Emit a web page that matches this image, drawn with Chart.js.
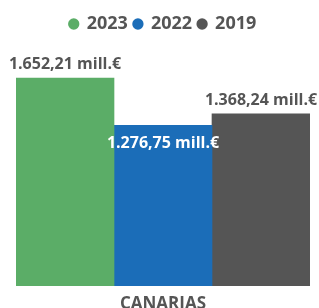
<!DOCTYPE html>
<html>
<head>
<meta charset="utf-8">
<script src="https://cdn.jsdelivr.net/npm/chart.js@4"></script>
<style>
  html, body { margin: 0; padding: 0; background: #fff; }
</style>
</head>
<body>
<canvas id="chart" width="319" height="308"></canvas>
<script>
// Chart data
var categories = ['CANARIAS'];
var seriesNames = ['2023', '2022', '2019'];
var seriesValues = [[1652.21], [1276.75], [1368.24]];
var seriesColors = ['#5BAD67', '#1B6DB8', '#555555'];
var labelInside = [false, true, false];
var yMax = 1930;

// Format 1652.21 -> "1.652,21 mill.€"
function formatValue(v) {
    var parts = v.toFixed(2).split('.');
    var intPart = parts[0].replace(/\B(?=(\d{3})+(?!\d))/g, '.');
    return intPart + ',' + parts[1] + ' mill.€';
}

// Draw the value labels above / inside the bars
var valueLabels = {
    id: 'valueLabels',
    afterDatasetsDraw: function(chart) {
        var ctx = chart.ctx;
        ctx.save();
        ctx.font = 'bold 16px "Open Sans"';
        ctx.textAlign = 'center';
        ctx.textBaseline = 'alphabetic';
        chart.data.datasets.forEach(function(ds, i) {
            var meta = chart.getDatasetMeta(i);
            meta.data.forEach(function(bar, j) {
                var text = formatValue(ds.data[j]);
                if (labelInside[i]) {
                    ctx.fillStyle = '#ffffff';
                    ctx.fillText(text, bar.x, bar.y + 23);
                } else {
                    ctx.fillStyle = '#555555';
                    ctx.fillText(text, bar.x, bar.y - 9);
                }
            });
        });
        ctx.restore();
    }
};

var datasets = seriesNames.map(function(name, i) {
    return {
        label: name,
        data: seriesValues[i],
        backgroundColor: seriesColors[i],
        borderWidth: 0,
        barPercentage: 1,
        categoryPercentage: 1
    };
});

var ctx = document.getElementById('chart').getContext('2d');
var chart = new Chart(ctx, {
    type: 'bar',
    data: { labels: categories, datasets: datasets },
    plugins: [valueLabels],
    options: {
        responsive: false,
        animation: false,
        layout: { padding: { left: 16, right: 9, top: 9, bottom: 0 } },
        plugins: {
            tooltip: { enabled: false },
            legend: {
                position: 'top',
                labels: {
                    usePointStyle: true,
                    pointStyle: 'circle',
                    boxWidth: 8,
                    boxHeight: 8,
                    padding: 6,
                    color: '#555555',
                    font: { family: '"Open Sans"', size: 18, weight: 'bold' }
                }
            }
        },
        scales: {
            x: {
                grid: { display: false, drawTicks: false },
                border: { display: false },
                ticks: {
                    padding: 8,
                    color: '#555555',
                    font: { family: '"Open Sans"', size: 17, weight: 'bold' }
                },
                afterFit: function(scale) { scale.height = 22; }
            },
            y: {
                display: false,
                min: 0,
                max: yMax
            }
        }
    }
});
</script>
</body>
</html>
